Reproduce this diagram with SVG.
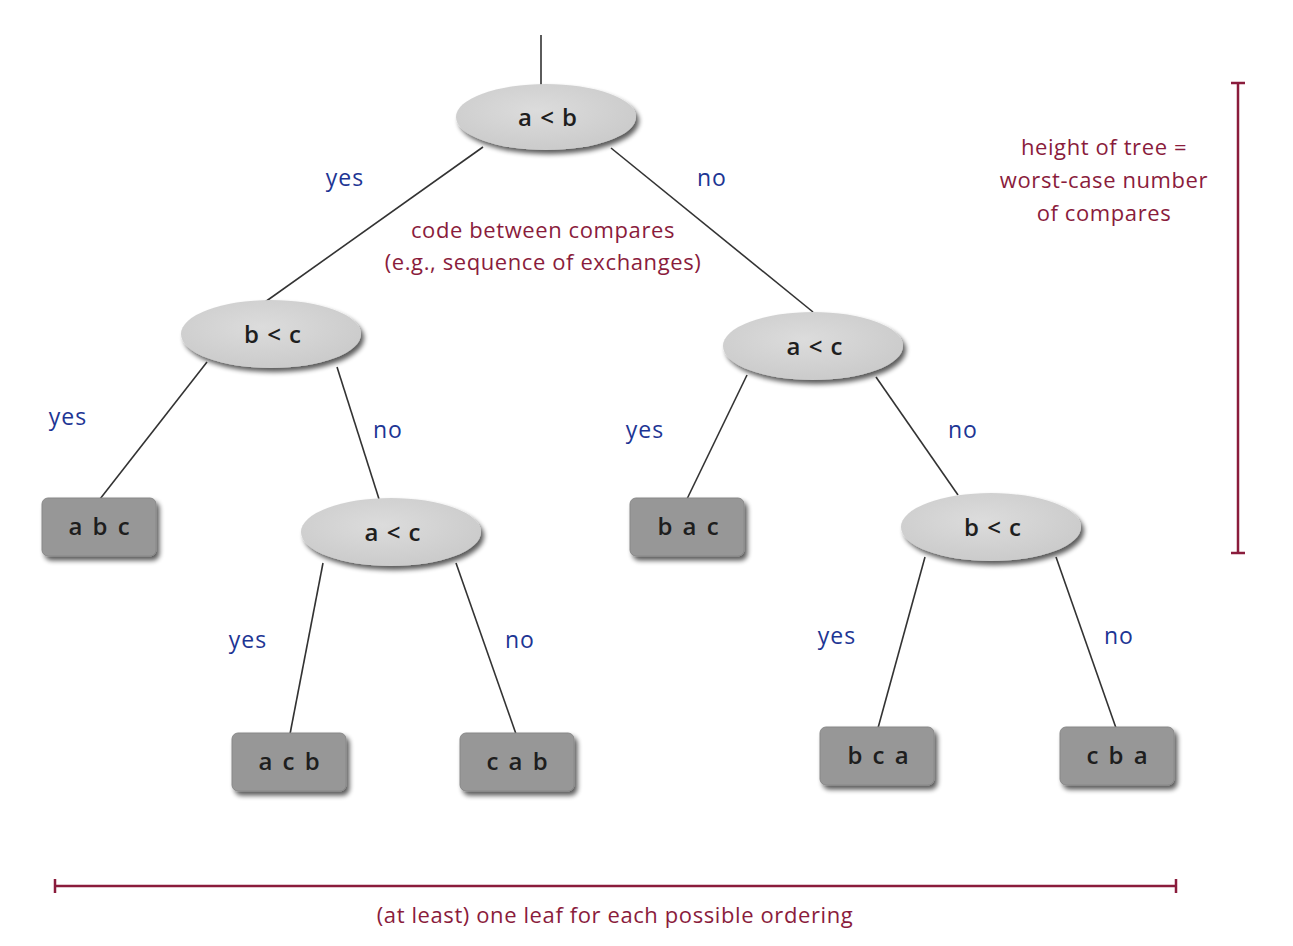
<svg xmlns="http://www.w3.org/2000/svg" width="1293" height="946" viewBox="0 0 1293 946">
<defs>
<filter id="sh" x="-20%" y="-30%" width="150%" height="170%">
<feGaussianBlur in="SourceAlpha" stdDeviation="2.5"/>
<feOffset dx="3" dy="4" result="b"/>
<feComponentTransfer><feFuncA type="linear" slope="0.65"/></feComponentTransfer>
<feMerge><feMergeNode/><feMergeNode in="SourceGraphic"/></feMerge>
</filter>
<radialGradient id="eg" cx="0.45" cy="0.4" r="0.6">
<stop offset="0" stop-color="#dcdcdc"/>
<stop offset="1" stop-color="#cbcbcb"/>
</radialGradient>
</defs>
<style>
.cmp{fill:url(#eg);filter:url(#sh)}
.leaf{fill:#979797;stroke:#888;stroke-width:1;filter:url(#sh)}
.nt{font-family:"Open Sans","DejaVu Sans",sans-serif;font-size:24px;font-weight:600;fill:#1e1e1e;text-anchor:middle;letter-spacing:1px}
.lt{letter-spacing:2px}
.edge{stroke:#333;stroke-width:1.6;fill:none}
.yn{font-family:"Open Sans","DejaVu Sans",sans-serif;font-size:23px;fill:#1d3594;text-anchor:middle;letter-spacing:1px}
.ann{font-family:"Open Sans","DejaVu Sans",sans-serif;font-size:22px;fill:#8a1c3c;text-anchor:middle;letter-spacing:0.6px}
.bar{stroke:#8a1c3c;stroke-width:2.5;fill:none}
</style>
<rect width="1293" height="946" fill="#ffffff"/>
<g id="connectors">
<line class="edge" x1="541" y1="35" x2="541" y2="86"/>
<line class="edge" x1="483" y1="147" x2="265" y2="302"/>
<line class="edge" x1="611" y1="148" x2="813" y2="312"/>
<line class="edge" x1="207" y1="362" x2="100" y2="499"/>
<line class="edge" x1="337" y1="367" x2="379" y2="499"/>
<line class="edge" x1="747" y1="375" x2="687" y2="499"/>
<line class="edge" x1="876" y1="377" x2="958" y2="495"/>
<line class="edge" x1="323" y1="563" x2="290" y2="734"/>
<line class="edge" x1="456" y1="563" x2="516" y2="734"/>
<line class="edge" x1="925" y1="557" x2="878" y2="728"/>
<line class="edge" x1="1056" y1="557" x2="1116" y2="728"/>
<text class="yn" x="345" y="186">yes</text>
<text class="yn" x="712" y="186">no</text>
<text class="yn" x="68" y="425">yes</text>
<text class="yn" x="388" y="438">no</text>
<text class="yn" x="645" y="438">yes</text>
<text class="yn" x="963" y="438">no</text>
<text class="yn" x="248" y="648">yes</text>
<text class="yn" x="520" y="648">no</text>
<text class="yn" x="837" y="644">yes</text>
<text class="yn" x="1119" y="644">no</text>
</g>
<g id="n_root"><ellipse class="cmp" cx="546" cy="117" rx="90" ry="33"/><text class="nt" x="548" y="126">a &lt; b</text></g>
<g id="n_bc1"><ellipse class="cmp" cx="271" cy="334" rx="90" ry="34"/><text class="nt" x="273" y="343">b &lt; c</text></g>
<g id="n_ac1"><ellipse class="cmp" cx="813" cy="346" rx="90" ry="34"/><text class="nt" x="815" y="355">a &lt; c</text></g>
<g id="n_ac2"><ellipse class="cmp" cx="391" cy="532" rx="90" ry="34"/><text class="nt" x="393" y="541">a &lt; c</text></g>
<g id="n_bc2"><ellipse class="cmp" cx="991" cy="527" rx="90" ry="34"/><text class="nt" x="993" y="536">b &lt; c</text></g>
<g id="l_abc"><rect class="leaf" x="42" y="498" width="114" height="58" rx="6"/><text class="nt lt" x="100" y="535">a b c</text></g>
<g id="l_bac"><rect class="leaf" x="630" y="498" width="114" height="58" rx="6"/><text class="nt lt" x="689" y="535">b a c</text></g>
<g id="l_acb"><rect class="leaf" x="232" y="733" width="114" height="58" rx="6"/><text class="nt lt" x="290" y="770">a c b</text></g>
<g id="l_cab"><rect class="leaf" x="460" y="733" width="114" height="58" rx="6"/><text class="nt lt" x="518" y="770">c a b</text></g>
<g id="l_bca"><rect class="leaf" x="820" y="727" width="114" height="58" rx="6"/><text class="nt lt" x="879" y="764">b c a</text></g>
<g id="l_cba"><rect class="leaf" x="1060" y="727" width="114" height="58" rx="6"/><text class="nt lt" x="1118" y="764">c b a</text></g>
<g id="annotations">
<text class="ann" x="543" y="238">code between compares</text>
<text class="ann" x="543" y="270">(e.g., sequence of exchanges)</text>
<text class="ann" x="1104" y="155">height of tree =</text>
<text class="ann" x="1104" y="188">worst-case number</text>
<text class="ann" x="1104" y="221">of compares</text>
<path class="bar" d="M1238 83V553M1231 83H1245M1231 553H1245"/>
<path class="bar" d="M55 886H1176M55 879V893M1176 879V893"/>
<text class="ann" x="615" y="923">(at least) one leaf for each possible ordering</text>
</g>
</svg>
